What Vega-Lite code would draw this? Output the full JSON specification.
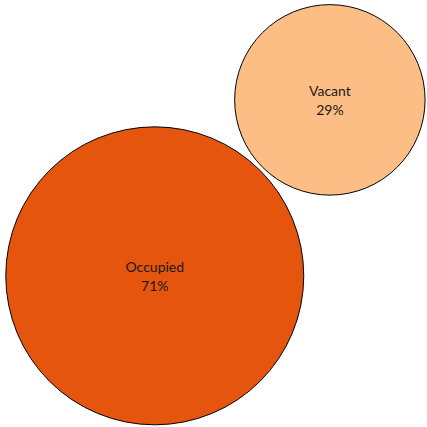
{
  "$schema": "https://vega.github.io/schema/vega-lite/v6.json",
  "width": 427,
  "height": 427,
  "autosize": {"type": "fit", "contains": "padding"},
  "padding": 0,
  "background": "white",
  "config": {"view": {"stroke": null}},
  "data": {
    "values": [
      {"status": "Occupied", "share": 0.71, "cx": 36.5, "cy": 35.1},
      {"status": "Vacant", "share": 0.29, "cx": 77.8, "cy": 76.5}
    ]
  },
  "encoding": {
    "x": {"field": "cx", "type": "quantitative", "scale": {"domain": [0, 100]}, "axis": null},
    "y": {"field": "cy", "type": "quantitative", "scale": {"domain": [0, 100]}, "axis": null}
  },
  "layer": [
    {
      "mark": {"type": "point", "shape": "circle", "filled": true, "opacity": 1, "stroke": "#000000", "strokeWidth": 1},
      "encoding": {
        "size": {"field": "share", "type": "quantitative", "scale": {"domain": [0, 0.71], "range": [0, 88800]}, "legend": null},
        "color": {"field": "status", "type": "nominal", "scale": {"domain": ["Occupied", "Vacant"], "range": ["#e6550d", "#fdbe85"]}, "legend": null}
      }
    },
    {
      "mark": {"type": "text", "font": "Lato", "fontSize": 14, "color": "#1a1a1a", "baseline": "middle", "align": "center", "dy": -8},
      "encoding": {"text": {"field": "status", "type": "nominal"}}
    },
    {
      "mark": {"type": "text", "font": "Lato", "fontSize": 14, "color": "#1a1a1a", "baseline": "middle", "align": "center", "dy": 11},
      "encoding": {"text": {"field": "share", "type": "quantitative", "format": ".0%"}}
    }
  ]
}
